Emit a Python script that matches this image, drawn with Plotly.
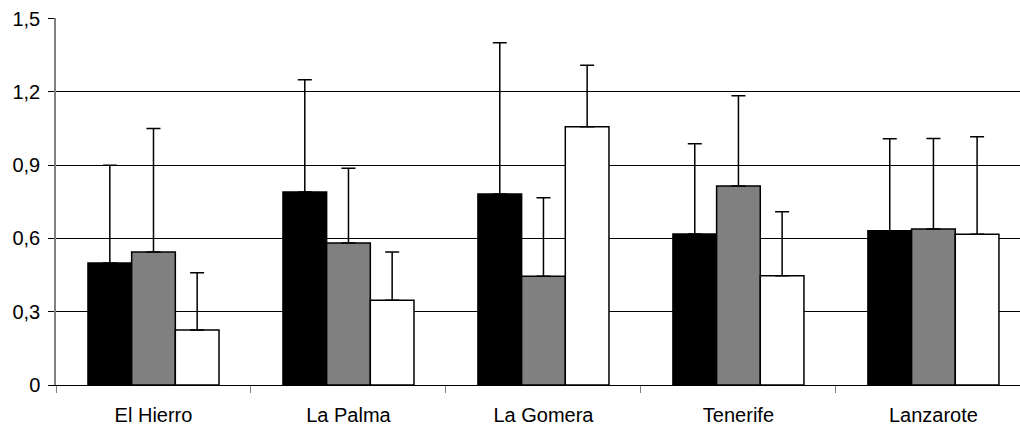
import plotly.graph_objects as go

islands = ["El Hierro", "La Palma", "La Gomera", "Tenerife", "Lanzarote"]
s1_mean = [0.50, 0.79, 0.782, 0.618, 0.632]
s1_err = [0.40, 0.46, 0.62, 0.37, 0.376]
s2_mean = [0.545, 0.582, 0.445, 0.815, 0.639]
s2_err = [0.505, 0.306, 0.322, 0.37, 0.37]
s3_mean = [0.225, 0.347, 1.058, 0.447, 0.617]
s3_err = [0.235, 0.198, 0.252, 0.263, 0.40]
y_ticks = [0, 0.3, 0.6, 0.9, 1.2, 1.5]
y_tick_text = ["0", "0,3", "0,6", "0,9", "1,2", "1,5"]

fills = ["#000000", "#808080", "#ffffff"]
fig = go.Figure()
for m, e, c in zip([s1_mean, s2_mean, s3_mean], [s1_err, s2_err, s3_err], fills):
    fig.add_trace(go.Bar(
        x=islands, y=m,
        marker=dict(color=c, line=dict(color="#000000", width=1.5)),
        error_y=dict(type="data", symmetric=False, array=e,
                     arrayminus=[0] * len(e), color="#000000",
                     thickness=1.5, width=7),
        showlegend=False,
    ))

fig.update_layout(
    width=1020, height=425,
    margin=dict(l=56, r=0, t=18, b=40),
    paper_bgcolor="white", plot_bgcolor="white",
    barmode="group", bargap=0.328, bargroupgap=0,
    font=dict(family="Liberation Sans, Arial, sans-serif", size=20, color="#000000"),
    showlegend=False,
)
fig.update_xaxes(
    range=[-0.5, 4.444], showgrid=False, automargin=False,
    showline=True, linecolor="#000000", linewidth=1,
    ticks="outside", ticklen=7, tickcolor="#808080",
    tickson="boundaries", ticklabelstandoff=12,
)
fig.update_yaxes(
    range=[0, 1.503], tickvals=y_ticks, ticktext=y_tick_text,
    showgrid=True, gridcolor="#000000", gridwidth=1, automargin=False,
    showline=True, linecolor="#808080", linewidth=1.5,
    ticks="outside", ticklen=6, tickcolor="#000000",
    ticklabelstandoff=4, zeroline=False,
)
fig.write_html(
    "out.html",
    config={"displayModeBar": False},
    post_script="document.body.style.margin='0';document.body.style.overflow='hidden';",
)
